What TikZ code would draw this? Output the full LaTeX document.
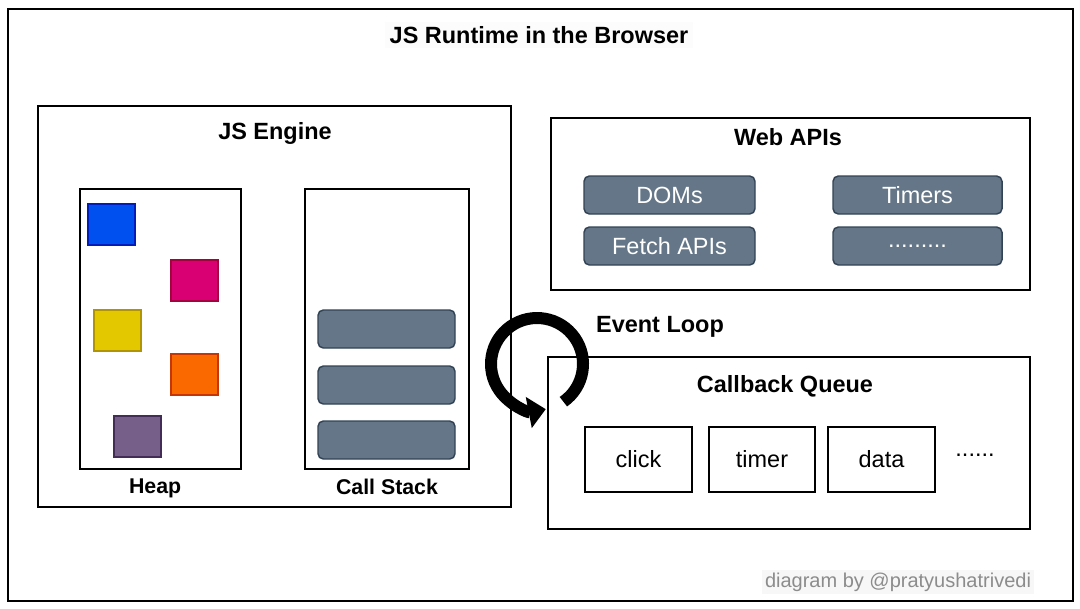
\documentclass[tikz,border=0pt]{standalone}
\usepackage{fontspec}
\setmainfont{Liberation Sans}
\usetikzlibrary{arrows.meta,fit,positioning}
\definecolor{slate}{HTML}{647687}
\definecolor{slatedk}{HTML}{314354}
\definecolor{heapblue}{HTML}{0050EF}
\definecolor{heapbluedk}{HTML}{001DBC}
\definecolor{heappink}{HTML}{D80073}
\definecolor{heappinkdk}{HTML}{A50040}
\definecolor{heapyellow}{HTML}{E3C800}
\definecolor{heapyellowdk}{HTML}{B09500}
\definecolor{heaporange}{HTML}{FA6800}
\definecolor{heaporangedk}{HTML}{C73500}
\definecolor{heappurple}{HTML}{76608A}
\definecolor{heappurpledk}{HTML}{432D57}

\begin{document}
\begin{tikzpicture}[x=0.75pt,y=-0.75pt,
    box/.style={draw,line width=1.4pt,inner sep=0pt},
    head/.style={font=\bfseries\fontsize{17.6}{20}\selectfont},
    sub/.style={font=\bfseries\fontsize{16}{19}\selectfont},
    plain/.style={font=\fontsize{17.6}{20}\selectfont},
    item/.style={draw=slatedk,fill=slate,line width=1.1pt,rounded corners=4pt,
      inner sep=0pt,label={[plain,text=white]center:#1}},
    item/.default={},
    cell/.style={box,line width=1.2pt,label={[plain]center:#1}},
    blob/.style={line width=0.8pt,inner sep=0pt},
    looparrow/.style={line width=9pt,-{Triangle[length=13pt,width=23pt]}}]
  \useasboundingbox (0,0) rectangle (1080,608);

  \node[box,line width=1.8pt,fit={(8,9) (1073,601)}] (browser) {};
  \node[head,fill=black!1] (title) at (539,35) {JS Runtime in the Browser};

  \node[box,fit={(38,106) (511,507)}] (engine) {};
  \node[head] (enginetitle) at (275,133) {JS Engine};
  \node[box,fit={(80,189) (241,469)},
    label={[sub,label distance=3pt,xshift=-4pt]below:Heap}] (heap) {};
  \node[box,fit={(305,189) (469,469)},
    label={[sub,label distance=3pt]below:Call Stack}] (stack) {};
  \foreach \y [count=\i] in {310,366,421}
    \node[item,fit={(318,\y) (455,\y+38)}] (frame\i) {};
  \foreach \x/\y/\c in {88/204/blue,171/260/pink,94/310/yellow,171/354/orange,114/416/purple}
    \node[blob,fill=heap\c,draw=heap\c dk,fit={(\x,\y) (\x+47,\y+41)}] (\c) {};

  \node[box,fit={(551,118) (1030,290)}] (web) {};
  \node[head] (webtitle) at (788,137) {Web APIs};
  \node[item=DOMs,fit={(584,176) (755,214)}] (doms) {};
  \node[item=Timers,fit={(833,176) (1002,214)}] (timers) {};
  \node[item=Fetch APIs,fit={(584,227) (755,265)}] (fetch) {};
  \node[item=.........,fit={(833,227) (1002,265)}] (moreapis) {};

  \node[box,fit={(548,357) (1030,529)}] (queue) {};
  \node[head] (queuetitle) at (785,386) {Callback Queue};
  \node[cell=click,fit={(585,427) (692,492)}] (click) {};
  \node[cell=timer,fit={(709,427) (815,492)}] (timer) {};
  \node[cell=data,fit={(828,427) (935,492)}] (data) {};
  \node[plain] (moretasks) at (975,455) {......};

  \coordinate (loop) at (537,364);
  \node[head] (looplabel) at (660,327) {Event Loop};
  \draw[looparrow] ([shift={(55:46)}]loop) arc[start angle=55,end angle=-281,radius=46];

  \node[fill=black!3,text=black!45,font=\fontsize{15}{18}\selectfont,inner sep=2pt]
    (credit) at (898,582) {diagram by @pratyushatrivedi};
\end{tikzpicture}
\end{document}
